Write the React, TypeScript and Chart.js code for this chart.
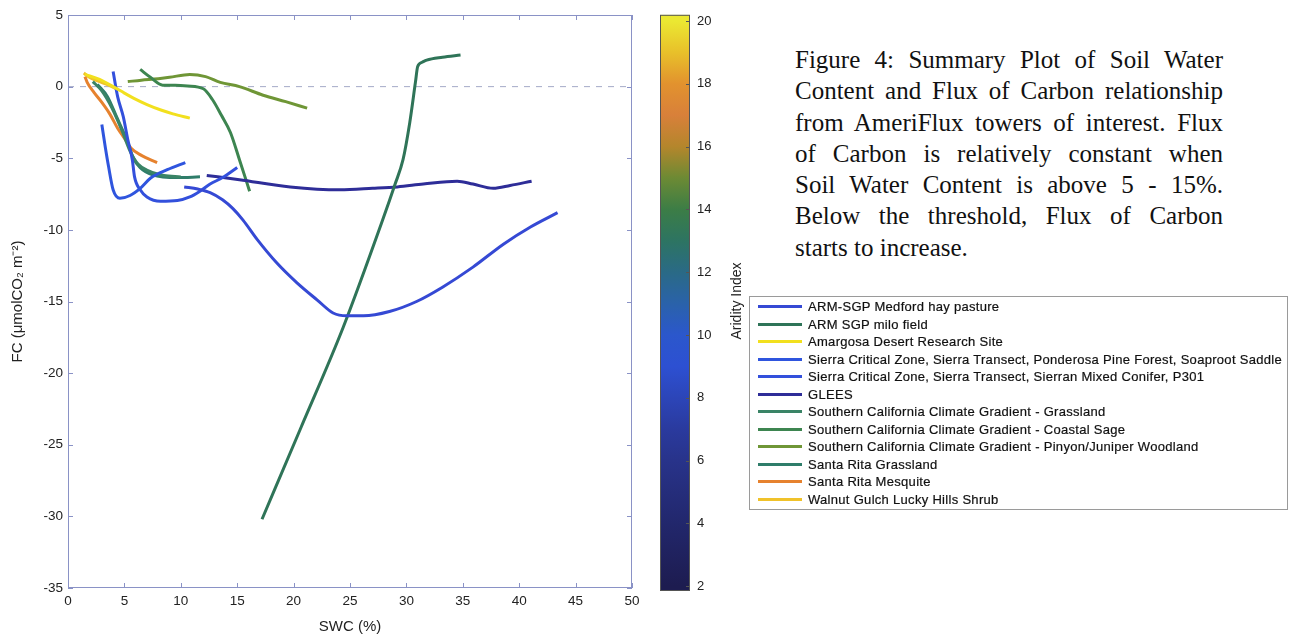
import React, { useEffect, useRef } from "react";
import { Chart, registerables } from "chart.js";

Chart.register(...registerables);

// ---------- data ----------
const siteNames = [
  "ARM-SGP Medford hay pasture",
  "ARM SGP milo field",
  "Amargosa Desert Research Site",
  "Sierra Critical Zone, Sierra Transect, Ponderosa Pine Forest, Soaproot Saddle",
  "Sierra Critical Zone, Sierra Transect, Sierran Mixed Conifer, P301",
  "GLEES",
  "Southern California Climate Gradient - Grassland",
  "Southern California Climate Gradient - Coastal Sage",
  "Southern California Climate Gradient - Pinyon/Juniper Woodland",
  "Santa Rita Grassland",
  "Santa Rita Mesquite",
  "Walnut Gulch Lucky Hills Shrub",
];

const siteColors = [
  "#3549d4",
  "#2f7458",
  "#f2e01e",
  "#2f55de",
  "#3350dc",
  "#2e2d98",
  "#3a8466",
  "#3d8550",
  "#6f9636",
  "#2f7d6a",
  "#e6822e",
  "#f0c22a",
];

// [SWC %, FC] pairs per site
const medford: number[][] = [
  [10.3, -7.0], [11.5, -7.15], [12.6, -7.4], [13.7, -7.9], [14.6, -8.5], [15.5, -9.3],
  [16.8, -10.7], [18.5, -12.3], [20.3, -13.7], [22.1, -14.9], [23.5, -15.8], [24.7, -16.0],
  [26.2, -16.0], [28.5, -15.7], [30.9, -15.0], [33.2, -14.0], [35.9, -12.6], [38.6, -11.0],
  [41.0, -9.8], [43.4, -8.8],
];
const milo: number[][] = [
  [17.2, -30.2], [20.6, -23.9], [24.4, -16.8], [27.9, -9.3], [29.0, -6.8], [29.7, -5.1],
  [30.3, -2.5], [30.8, 0.3], [31.0, 1.4], [31.4, 1.7], [31.8, 1.85], [33.2, 2.05], [34.8, 2.2],
];
const amargosa: number[][] = [
  [1.5, 0.85], [2.8, 0.5], [4.0, 0.0], [5.0, -0.45], [5.8, -0.8], [7.0, -1.25], [8.3, -1.65],
  [9.3, -1.9], [10.8, -2.2],
];
const soaproot: number[][] = [
  [3.0, -2.65], [3.3, -4.2], [3.6, -5.6], [4.0, -7.2], [4.6, -7.8], [5.5, -7.6], [6.4, -7.1],
  [7.3, -6.4], [8.8, -5.8], [10.4, -5.3],
];
const p301: number[][] = [
  [4.0, 1.05], [4.4, -0.7], [4.9, -2.1], [5.3, -3.7], [5.7, -5.1], [5.9, -6.3], [6.4, -7.2],
  [7.0, -7.7], [8.2, -8.0], [9.7, -7.95], [10.8, -7.7], [11.7, -7.3], [12.6, -6.8],
  [13.7, -6.35], [15.0, -5.65],
];
const glees: number[][] = [
  [12.3, -6.2], [15.2, -6.5], [19.7, -7.0], [24.1, -7.2], [27.0, -7.1], [29.2, -7.0],
  [31.5, -6.8], [34.5, -6.6], [35.9, -6.8], [37.7, -7.1], [39.2, -6.9], [41.1, -6.6],
];
const sccgGrassland: number[][] = [
  [2.2, 0.35], [3.0, -0.3], [3.9, -1.5], [4.8, -3.1], [5.5, -4.5], [6.2, -5.4], [7.2, -5.9],
  [8.5, -6.2], [10.0, -6.3],
];
const sccgCoastalSage: number[][] = [
  [6.4, 1.2], [7.3, 0.65], [8.4, 0.1], [9.5, 0.1], [10.6, 0.05], [12.0, -0.15], [12.8, -0.9],
  [13.6, -2.0], [14.4, -3.2], [15.2, -5.1], [16.1, -7.3],
];
const sccgPinyon: number[][] = [
  [5.3, 0.35], [6.5, 0.45], [8.0, 0.55], [9.0, 0.65], [10.8, 0.85], [12.2, 0.7], [13.5, 0.3],
  [15.2, 0.0], [17.3, -0.6], [19.3, -1.05], [21.2, -1.5],
];
const srGrassland: number[][] = [
  [2.6, 0.15], [3.5, -0.7], [4.3, -2.1], [5.2, -3.7], [5.8, -5.0], [6.4, -5.65], [7.5, -6.15],
  [9.7, -6.35], [11.7, -6.3],
];
const srMesquite: number[][] = [
  [1.5, 0.7], [1.7, 0.3], [2.3, -0.4], [3.0, -1.1], [3.7, -1.9], [4.4, -2.9], [5.0, -3.6],
  [5.6, -4.3], [6.5, -4.8], [7.9, -5.3],
];
const walnutGulch: number[][] = [
  [1.4, 0.95], [2.0, 0.6], [2.8, 0.35], [3.6, 0.1], [4.3, -0.15],
];

const siteSeries = [
  medford, milo, amargosa, soaproot, p301, glees,
  sccgGrassland, sccgCoastalSage, sccgPinyon, srGrassland, srMesquite, walnutGulch,
];

const zeroLine: number[][] = [[0, 0], [50, 0]];

const xTicks = [0, 5, 10, 15, 20, 25, 30, 35, 40, 45, 50];
const yTicks = [5, 0, -5, -10, -15, -20, -25, -30, -35];
const aridityTicks = [2, 4, 6, 8, 10, 12, 14, 16, 18, 20];
const aridityMin = 1.85;
const aridityMax = 20.2;
const aridityStops: [number, string][] = [
  [2, "#1d1c50"], [4, "#22276c"], [6, "#28338a"], [7, "#2a3a9e"], [8, "#2c45b8"],
  [9, "#2d50d2"], [10, "#2b57cc"], [11, "#2a62aa"], [12, "#2a6a86"], [13, "#2d7462"],
  [14, "#3c7d46"], [15, "#6c8a34"], [16, "#b4862c"], [17, "#d8803a"], [18, "#e2922e"],
  [19, "#e8c02a"], [20, "#ebe832"],
];

const captionLines = [
  "Figure 4: Summary Plot of Soil Water",
  "Content and Flux of Carbon relationship",
  "from AmeriFlux towers of interest. Flux",
  "of Carbon is relatively constant when",
  "Soil Water Content is above 5 - 15%.",
  "Below the threshold, Flux of Carbon",
  "starts to increase.",
];

const SANS = "'Liberation Sans', Arial, Helvetica, sans-serif";

export default function App() {
  const mainRef = useRef<HTMLCanvasElement>(null);
  const cbRef = useRef<HTMLCanvasElement>(null);

  useEffect(() => {
    Chart.defaults.font.family = SANS;
    Chart.defaults.color = "#222";

    const framePlugin = {
      id: "frame",
      afterDraw(chart: any) {
        const { ctx, chartArea } = chart;
        const { left, right, top, bottom } = chartArea;
        const xs = chart.scales.x;
        const ys = chart.scales.y;
        ctx.save();
        ctx.strokeStyle = "#8a92c6";
        ctx.lineWidth = 1;
        ctx.strokeRect(left + 0.5, top + 0.5, right - left - 1, bottom - top - 1);
        ctx.beginPath();
        xTicks.forEach((v) => {
          const px = Math.round(xs.getPixelForValue(v)) + 0.5;
          ctx.moveTo(px, bottom);
          ctx.lineTo(px, bottom - 5);
          ctx.moveTo(px, top);
          ctx.lineTo(px, top + 5);
        });
        yTicks.forEach((v) => {
          const py = Math.round(ys.getPixelForValue(v)) + 0.5;
          ctx.moveTo(left, py);
          ctx.lineTo(left + 5, py);
          ctx.moveTo(right, py);
          ctx.lineTo(right - 5, py);
        });
        ctx.stroke();
        ctx.restore();
      },
    };

    const datasets: any[] = siteSeries.map((pts, i) => ({
      label: siteNames[i],
      data: pts.map(([x, y]) => ({ x, y })),
      borderColor: siteColors[i],
      backgroundColor: siteColors[i],
      borderWidth: 3,
      showLine: true,
      pointRadius: 0,
      cubicInterpolationMode: "monotone",
      order: i,
    }));
    datasets.push({
      label: "zero",
      data: zeroLine.map(([x, y]) => ({ x, y })),
      borderColor: "#a4aac8",
      borderWidth: 1,
      borderDash: [6, 6],
      showLine: true,
      pointRadius: 0,
      order: 100,
    });

    const main = new Chart(mainRef.current as HTMLCanvasElement, {
      type: "scatter",
      data: { datasets },
      plugins: [framePlugin],
      options: {
        animation: false,
        responsive: false,
        layout: { padding: { left: 0, right: 18, top: 15, bottom: 0 } },
        plugins: { legend: { display: false }, tooltip: { enabled: false } },
        scales: {
          x: {
            type: "linear",
            min: 0,
            max: 50,
            afterBuildTicks: (s: any) => {
              s.ticks = xTicks.map((v) => ({ value: v }));
            },
            afterFit: (s: any) => {
              s.height = 48;
            },
            grid: { display: false, drawTicks: false },
            border: { display: false },
            ticks: { font: { size: 13.5 }, color: "#222", padding: 5, maxRotation: 0 },
            title: {
              display: true,
              text: "SWC (%)",
              font: { size: 15 },
              color: "#222",
              padding: { top: 0, bottom: 0 },
            },
          },
          y: {
            type: "linear",
            min: -35,
            max: 5,
            afterBuildTicks: (s: any) => {
              s.ticks = yTicks.map((v) => ({ value: v }));
            },
            afterFit: (s: any) => {
              s.width = 68;
            },
            grid: { display: false, drawTicks: false },
            border: { display: false },
            ticks: { font: { size: 13.5 }, color: "#222", padding: 5 },
            title: {
              display: true,
              text: "FC (μmolCO₂ m⁻²)",
              font: { size: 15 },
              color: "#222",
              padding: { top: 9, bottom: 0 },
            },
          },
        },
      } as any,
    });

    const cbPlugin = {
      id: "cbframe",
      afterDraw(chart: any) {
        const { ctx, chartArea } = chart;
        const { left, right, top, bottom } = chartArea;
        const ys = chart.scales.y;
        ctx.save();
        ctx.strokeStyle = "#555";
        ctx.lineWidth = 1;
        ctx.strokeRect(left + 0.5, top + 0.5, right - left - 1, bottom - top - 1);
        ctx.beginPath();
        aridityTicks.forEach((v) => {
          const py = Math.round(ys.getPixelForValue(v)) + 0.5;
          ctx.moveTo(right, py);
          ctx.lineTo(right - 4, py);
        });
        ctx.stroke();
        ctx.translate(87, 301);
        ctx.rotate(-Math.PI / 2);
        ctx.fillStyle = "#222";
        ctx.font = `14px ${SANS}`;
        ctx.textAlign = "center";
        ctx.textBaseline = "middle";
        ctx.fillText("Aridity Index", 0, 0);
        ctx.restore();
      },
    };

    const cb = new Chart(cbRef.current as HTMLCanvasElement, {
      type: "bar",
      data: {
        labels: ["Aridity Index"],
        datasets: [
          {
            data: [[aridityMin, aridityMax]],
            borderWidth: 0,
            barPercentage: 1,
            categoryPercentage: 1,
            backgroundColor: (c: any) => {
              const chart = c.chart;
              const { ctx, chartArea } = chart;
              if (!chartArea) return "#2a55c8";
              const ys = chart.scales.y;
              const y0 = ys.getPixelForValue(aridityMin);
              const y1 = ys.getPixelForValue(aridityMax);
              const g = ctx.createLinearGradient(0, y0, 0, y1);
              aridityStops.forEach(([v, col]) => {
                g.addColorStop((v - aridityMin) / (aridityMax - aridityMin), col);
              });
              return g;
            },
          } as any,
        ],
      },
      plugins: [cbPlugin],
      options: {
        animation: false,
        responsive: false,
        layout: { padding: { left: 10, right: 0, top: 12, bottom: 45 } },
        plugins: { legend: { display: false }, tooltip: { enabled: false } },
        scales: {
          x: { display: false },
          y: {
            position: "right",
            min: aridityMin,
            max: aridityMax,
            afterBuildTicks: (s: any) => {
              s.ticks = aridityTicks.map((v) => ({ value: v }));
            },
            afterFit: (s: any) => {
              s.width = 80;
            },
            grid: { display: false, drawTicks: false },
            border: { display: false },
            ticks: { font: { size: 13 }, color: "#222", padding: 7 },
          },
        },
      } as any,
    });

    return () => {
      main.destroy();
      cb.destroy();
    };
  }, []);

  return (
    <div
      style={{
        position: "absolute",
        left: 0,
        top: 0,
        width: 1290,
        height: 636,
        background: "#fff",
        overflow: "hidden",
      }}
    >
      <canvas
        ref={mainRef}
        width={650}
        height={636}
        style={{ position: "absolute", left: 0, top: 0, width: 650, height: 636 }}
      />
      <canvas
        ref={cbRef}
        width={120}
        height={636}
        style={{ position: "absolute", left: 650, top: 0, width: 120, height: 636 }}
      />
      <div
        style={{
          position: "absolute",
          left: 795,
          top: 44,
          width: 428,
          fontFamily: "'Liberation Serif', 'Times New Roman', serif",
          fontSize: 25,
          lineHeight: "31.3px",
          color: "#111",
        }}
      >
        {captionLines.map((line, i) => (
          <div
            key={i}
            style={{
              textAlign: i === captionLines.length - 1 ? "left" : "justify",
              textAlignLast: i === captionLines.length - 1 ? "left" : "justify",
            } as any}
          >
            {line}
          </div>
        ))}
      </div>
      <div
        style={{
          position: "absolute",
          left: 749,
          top: 296,
          width: 537,
          height: 211,
          border: "1px solid #9a9a9a",
          paddingTop: 1,
          boxSizing: "content-box",
          fontFamily: SANS,
          fontSize: 13,
          letterSpacing: "0.3px",
          color: "#111",
          WebkitTextStroke: "0.2px #111",
        } as any}
      >
        {siteNames.map((name, i) => (
          <div
            key={i}
            style={{ height: 17.5, display: "flex", alignItems: "center", whiteSpace: "nowrap" }}
          >
            <span
              style={{
                display: "inline-block",
                width: 44,
                height: 3,
                marginLeft: 8,
                marginRight: 6,
                background: siteColors[i],
              }}
            />
            <span>{name}</span>
          </div>
        ))}
      </div>
    </div>
  );
}
